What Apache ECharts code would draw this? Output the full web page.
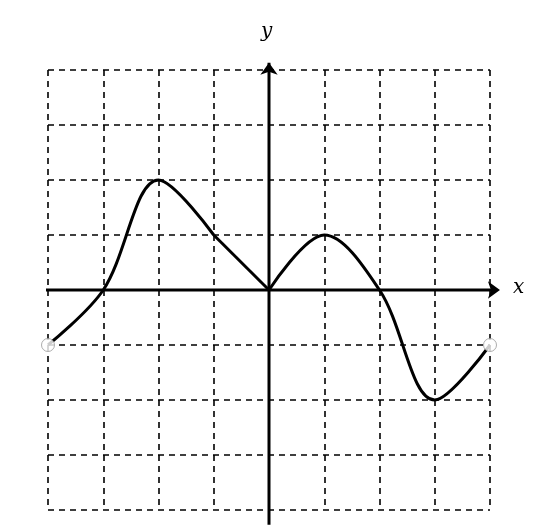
<!DOCTYPE html>
<html>
<head>
<meta charset="UTF-8" />
<script src="https://cdn.jsdelivr.net/npm/echarts@6/dist/echarts.min.js"></script>
</head>
<body style="margin:0">
<div id="c" style="width:544px;height:531px"></div>
<script>
var xs = [-4, -3, -2, -1, 0, 1, 2, 3, 4]
var ys = [-1, 0, 2, 1, 0, 1, 0, -2, -1]
var xAxisEnds = [-4.18, 4.18]
var yAxisEnds = [-4.27, 4.13]

var chart = echarts.init(document.getElementById("c"))

function pts(a, b) {
  var out = []
  for (let i = a; i <= b; i++) out.push([xs[i], ys[i]])
  return out
}
var last = xs.length - 1
var curveStyle = { color: "#000", width: 3 }
var dash = { color: "#000", width: 1.6, type: [6, 5] }

function axisSeries(p0, p1, rot) {
  return {
    type: "line", clip: false, silent: true, z: 4,
    lineStyle: { color: "#000", width: 3 },
    itemStyle: { color: "#000" },
    data: [
      { value: p0, symbol: "none" },
      { value: p1, symbol: "arrow", symbolSize: [13, 12], symbolRotate: rot },
    ],
  }
}

chart.setOption({
  animation: false,
  grid: { left: 48, right: 54, top: 70, bottom: 21 },
  xAxis: {
    type: "value", min: -4, max: 4, interval: 1,
    axisLine: { show: false }, axisTick: { show: false }, axisLabel: { show: false },
    splitLine: { lineStyle: dash },
  },
  yAxis: {
    type: "value", min: -4, max: 4, interval: 1,
    axisLine: { show: false }, axisTick: { show: false }, axisLabel: { show: false },
    splitLine: { lineStyle: dash },
  },
  graphic: [
    { type: "text", left: 261, top: 22, style: { text: "y", font: "italic 20px 'DejaVu Serif'", fill: "#000" } },
    { type: "text", left: 513, top: 278, style: { text: "x", font: "italic 20px 'DejaVu Serif'", fill: "#000" } },
  ],
  series: [
    axisSeries([xAxisEnds[0], 0], [xAxisEnds[1], 0], -90),
    axisSeries([0, yAxisEnds[0]], [0, yAxisEnds[1]], 0),
    { type: "line", data: pts(0, 3), smooth: 0.35, showSymbol: false, clip: false, lineStyle: curveStyle, z: 5 },
    { type: "line", data: pts(3, 4), showSymbol: false, clip: false, lineStyle: curveStyle, z: 5 },
    { type: "line", data: pts(4, last), smooth: 0.35, showSymbol: false, clip: false, lineStyle: curveStyle, z: 5 },
    {
      type: "scatter", data: [[xs[0], ys[0]], [xs[last], ys[last]]],
      symbol: "circle", symbolSize: 13, clip: false, z: 6,
      itemStyle: { color: "#fff", borderColor: "#999", borderWidth: 1 },
    },
  ],
})
</script>
</body>
</html>
